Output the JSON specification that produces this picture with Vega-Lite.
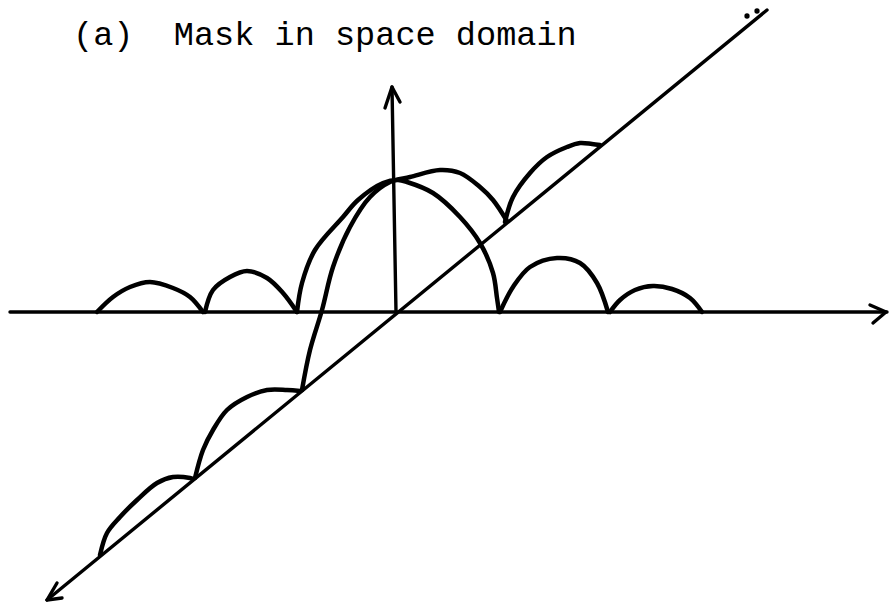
{
  "$schema": "https://vega.github.io/schema/vega-lite/v6.json",
  "description": "Sketch of a mask in the space domain: axes, the diagonal depth axis and the lobes drawn along both.",
  "width": 889,
  "height": 605,
  "autosize": {"type": "fit", "contains": "padding"},
  "padding": 0,
  "background": "white",
  "config": {"view": {"stroke": null}},
  "datasets": {
    "strokes": [
      {"s": "h_axis", "k": "axis", "i": 0, "u": -386, "v": 0},
      {"s": "h_axis", "k": "axis", "i": 1, "u": 491, "v": 0},
      {"s": "h_head", "k": "axis", "i": 0, "u": 474, "v": 7},
      {"s": "h_head", "k": "axis", "i": 1, "u": 490, "v": 0},
      {"s": "h_head", "k": "axis", "i": 2, "u": 477, "v": -11},
      {"s": "v_axis", "k": "axis", "i": 0, "u": 0, "v": 0},
      {"s": "v_axis", "k": "axis", "i": 1, "u": -4, "v": 225},
      {"s": "v_head", "k": "axis", "i": 0, "u": -11, "v": 204},
      {"s": "v_head", "k": "axis", "i": 1, "u": -4, "v": 225},
      {"s": "v_head", "k": "axis", "i": 2, "u": 4, "v": 210},
      {"s": "d_axis", "k": "axis", "i": 0, "u": -349, "v": -288},
      {"s": "d_axis", "k": "axis", "i": 1, "u": 371, "v": 302},
      {"s": "d_head", "k": "axis", "i": 0, "u": -339, "v": -271},
      {"s": "d_head", "k": "axis", "i": 1, "u": -349, "v": -288},
      {"s": "d_head", "k": "axis", "i": 2, "u": -334, "v": -286},

      {"s": "a1", "k": "lobe", "i": 0, "u": -299, "v": 0},
      {"s": "a1", "k": "lobe", "i": 1, "u": -283, "v": 15},
      {"s": "a1", "k": "lobe", "i": 2, "u": -266, "v": 25},
      {"s": "a1", "k": "lobe", "i": 3, "u": -246, "v": 30},
      {"s": "a1", "k": "lobe", "i": 4, "u": -223, "v": 24},
      {"s": "a1", "k": "lobe", "i": 5, "u": -206, "v": 15},
      {"s": "a1", "k": "lobe", "i": 6, "u": -193, "v": 0},

      {"s": "a2", "k": "lobe", "i": 0, "u": -191, "v": 0},
      {"s": "a2", "k": "lobe", "i": 1, "u": -183, "v": 22},
      {"s": "a2", "k": "lobe", "i": 2, "u": -166, "v": 35},
      {"s": "a2", "k": "lobe", "i": 3, "u": -149, "v": 41},
      {"s": "a2", "k": "lobe", "i": 4, "u": -129, "v": 34},
      {"s": "a2", "k": "lobe", "i": 5, "u": -113, "v": 19},
      {"s": "a2", "k": "lobe", "i": 6, "u": -99, "v": 0},

      {"s": "a3", "k": "lobe", "i": 0, "u": -99, "v": 0},
      {"s": "a3", "k": "lobe", "i": 1, "u": -94, "v": 29},
      {"s": "a3", "k": "lobe", "i": 2, "u": -81, "v": 62},
      {"s": "a3", "k": "lobe", "i": 3, "u": -53, "v": 95},
      {"s": "a3", "k": "lobe", "i": 4, "u": -38, "v": 112},
      {"s": "a3", "k": "lobe", "i": 5, "u": -13, "v": 129},
      {"s": "a3", "k": "lobe", "i": 6, "u": 2, "v": 132},
      {"s": "a3", "k": "lobe", "i": 7, "u": 11, "v": 130},
      {"s": "a3", "k": "lobe", "i": 8, "u": 37, "v": 119},
      {"s": "a3", "k": "lobe", "i": 9, "u": 64, "v": 95},
      {"s": "a3", "k": "lobe", "i": 10, "u": 84, "v": 69},
      {"s": "a3", "k": "lobe", "i": 11, "u": 97, "v": 39},
      {"s": "a3", "k": "lobe", "i": 12, "u": 101, "v": 14},
      {"s": "a3", "k": "lobe", "i": 13, "u": 103, "v": 0},

      {"s": "a4", "k": "lobe", "i": 0, "u": 104, "v": 0},
      {"s": "a4", "k": "lobe", "i": 1, "u": 117, "v": 25},
      {"s": "a4", "k": "lobe", "i": 2, "u": 134, "v": 45},
      {"s": "a4", "k": "lobe", "i": 3, "u": 161, "v": 54},
      {"s": "a4", "k": "lobe", "i": 4, "u": 184, "v": 49},
      {"s": "a4", "k": "lobe", "i": 5, "u": 201, "v": 29},
      {"s": "a4", "k": "lobe", "i": 6, "u": 212, "v": 0},

      {"s": "a5", "k": "lobe", "i": 0, "u": 214, "v": 0},
      {"s": "a5", "k": "lobe", "i": 1, "u": 224, "v": 12},
      {"s": "a5", "k": "lobe", "i": 2, "u": 239, "v": 22},
      {"s": "a5", "k": "lobe", "i": 3, "u": 257, "v": 26},
      {"s": "a5", "k": "lobe", "i": 4, "u": 276, "v": 23},
      {"s": "a5", "k": "lobe", "i": 5, "u": 294, "v": 14},
      {"s": "a5", "k": "lobe", "i": 6, "u": 306, "v": 0},

      {"s": "d1", "k": "lobe", "i": 0, "u": -296, "v": -243},
      {"s": "d1", "k": "lobe", "i": 1, "u": -289, "v": -221},
      {"s": "d1", "k": "lobe", "i": 2, "u": -276, "v": -205},
      {"s": "d1", "k": "lobe", "i": 3, "u": -259, "v": -188},
      {"s": "d1", "k": "lobe", "i": 4, "u": -239, "v": -171},
      {"s": "d1", "k": "lobe", "i": 5, "u": -223, "v": -165},
      {"s": "d1", "k": "lobe", "i": 6, "u": -206, "v": -166},
      {"s": "d1", "k": "lobe", "i": 7, "u": -203, "v": -167},

      {"s": "d2", "k": "lobe", "i": 0, "u": -201, "v": -166},
      {"s": "d2", "k": "lobe", "i": 1, "u": -193, "v": -138},
      {"s": "d2", "k": "lobe", "i": 2, "u": -183, "v": -118},
      {"s": "d2", "k": "lobe", "i": 3, "u": -169, "v": -98},
      {"s": "d2", "k": "lobe", "i": 4, "u": -149, "v": -85},
      {"s": "d2", "k": "lobe", "i": 5, "u": -129, "v": -78},
      {"s": "d2", "k": "lobe", "i": 6, "u": -109, "v": -78},
      {"s": "d2", "k": "lobe", "i": 7, "u": -96, "v": -79},

      {"s": "d3", "k": "lobe", "i": 0, "u": -94, "v": -78},
      {"s": "d3", "k": "lobe", "i": 1, "u": -86, "v": -38},
      {"s": "d3", "k": "lobe", "i": 2, "u": -74, "v": 2},
      {"s": "d3", "k": "lobe", "i": 3, "u": -63, "v": 45},
      {"s": "d3", "k": "lobe", "i": 4, "u": -46, "v": 85},
      {"s": "d3", "k": "lobe", "i": 5, "u": -26, "v": 115},
      {"s": "d3", "k": "lobe", "i": 6, "u": -6, "v": 130},
      {"s": "d3", "k": "lobe", "i": 7, "u": 14, "v": 135},
      {"s": "d3", "k": "lobe", "i": 8, "u": 44, "v": 142},
      {"s": "d3", "k": "lobe", "i": 9, "u": 64, "v": 139},
      {"s": "d3", "k": "lobe", "i": 10, "u": 84, "v": 125},
      {"s": "d3", "k": "lobe", "i": 11, "u": 97, "v": 112},
      {"s": "d3", "k": "lobe", "i": 12, "u": 111, "v": 91},

      {"s": "d4", "k": "lobe", "i": 0, "u": 109, "v": 90},
      {"s": "d4", "k": "lobe", "i": 1, "u": 117, "v": 115},
      {"s": "d4", "k": "lobe", "i": 2, "u": 134, "v": 139},
      {"s": "d4", "k": "lobe", "i": 3, "u": 151, "v": 155},
      {"s": "d4", "k": "lobe", "i": 4, "u": 171, "v": 165},
      {"s": "d4", "k": "lobe", "i": 5, "u": 184, "v": 169},
      {"s": "d4", "k": "lobe", "i": 6, "u": 196, "v": 168},
      {"s": "d4", "k": "lobe", "i": 7, "u": 204, "v": 167}
    ],
    "dots": [
      {"u": 351, "v": 296},
      {"u": 361, "v": 301}
    ],
    "caption": [
      {"label": "(a)\u00a0\u00a0Mask in space domain", "u": -323, "v": 267}
    ]
  },
  "encoding": {
    "x": {"field": "u", "type": "quantitative", "axis": null,
          "scale": {"domain": [-396, 493], "nice": false, "zero": false}},
    "y": {"field": "v", "type": "quantitative", "axis": null,
          "scale": {"domain": [-293, 312], "nice": false, "zero": false}}
  },
  "layer": [
    {
      "data": {"name": "strokes"},
      "transform": [{"filter": "datum.k === 'axis'"}],
      "mark": {"type": "line", "color": "black", "strokeWidth": 3.4,
               "strokeCap": "round", "strokeJoin": "round", "interpolate": "linear"},
      "encoding": {
        "detail": {"field": "s", "type": "nominal"},
        "order": {"field": "i", "type": "quantitative"}
      }
    },
    {
      "data": {"name": "strokes"},
      "transform": [{"filter": "datum.k === 'lobe'"}],
      "mark": {"type": "line", "color": "black", "strokeWidth": 4.5,
               "strokeCap": "round", "strokeJoin": "round", "interpolate": "catmull-rom"},
      "encoding": {
        "detail": {"field": "s", "type": "nominal"},
        "order": {"field": "i", "type": "quantitative"}
      }
    },
    {
      "data": {"name": "dots"},
      "mark": {"type": "point", "filled": true, "color": "black", "opacity": 1, "size": 28}
    },
    {
      "data": {"name": "caption"},
      "mark": {"type": "text", "align": "left", "baseline": "alphabetic",
               "font": "Liberation Mono", "fontSize": 33.6, "color": "black"},
      "encoding": {"text": {"field": "label", "type": "nominal"}}
    }
  ]
}
